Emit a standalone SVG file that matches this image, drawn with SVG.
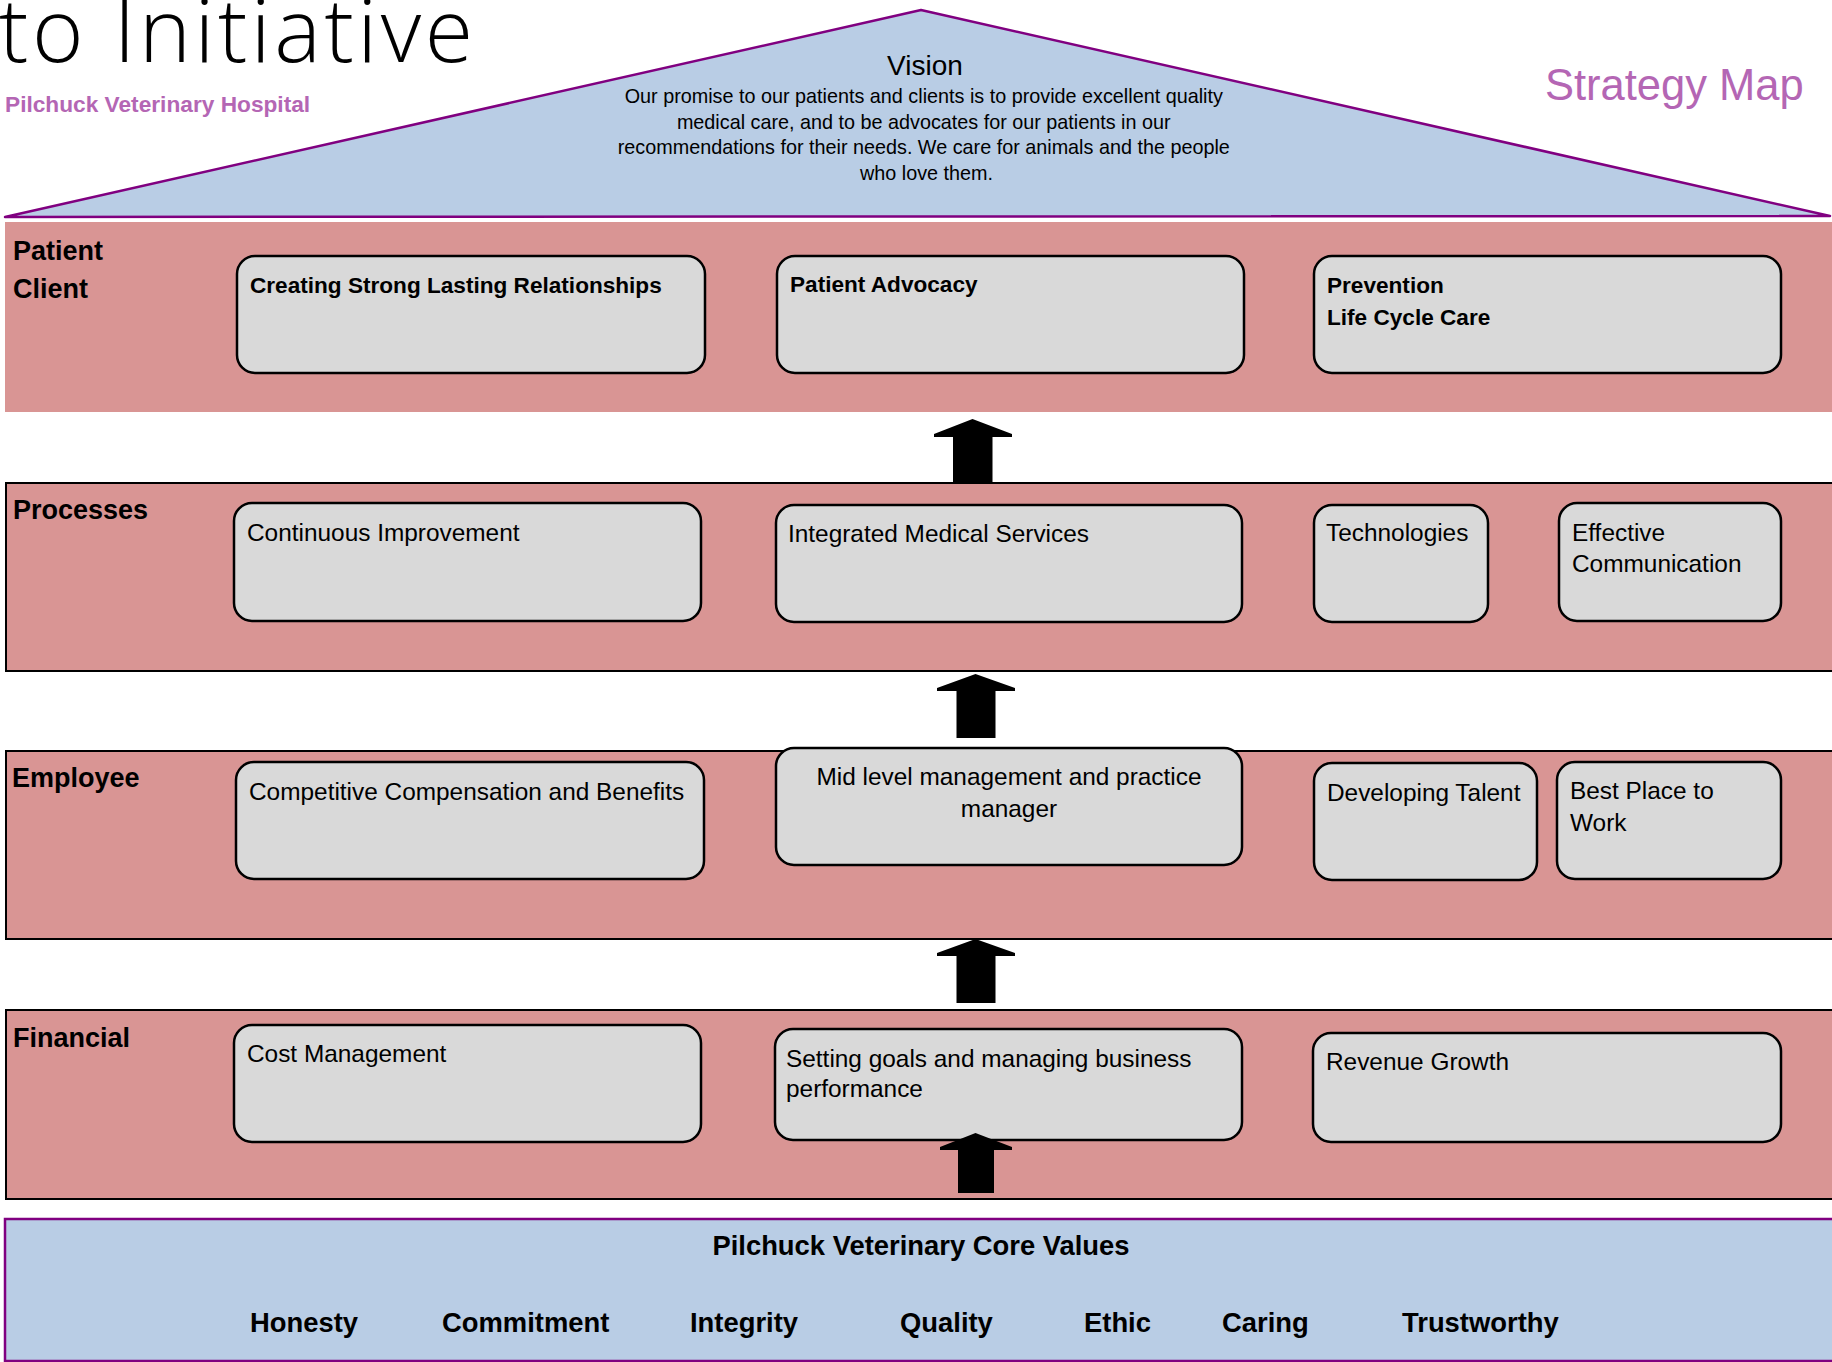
<svg xmlns="http://www.w3.org/2000/svg" width="1832" height="1362" viewBox="0 0 1832 1362">
<style>
.t{font-family:"Liberation Sans",Arial,sans-serif;fill:#000}
.r{font-size:24.4px}
.b{font-size:22.6px;font-weight:bold}
.lbl{font-size:27px;font-weight:bold}
.cv{font-size:27.4px;font-weight:bold}
.band{fill:#D99594;stroke:#000;stroke-width:2}
.box{fill:#D9D9D9;stroke:#000;stroke-width:2.5}
.arrow{fill:#000}
.purple{fill:#B466B4}
</style>
<rect x="0" y="0" width="1832" height="1362" fill="#FFFFFF"/>
<g id="title">
<text x="-1" y="62" font-family="'Open Sans','Liberation Sans',sans-serif" font-weight="300" font-size="88" textLength="474" lengthAdjust="spacing" fill="#000">to Initiative</text>
<text class="t purple" x="5" y="112" font-size="22.7" font-weight="bold">Pilchuck Veterinary Hospital</text>
<text class="t purple" x="1545" y="100" font-size="43.5">Strategy Map</text>
</g>
<g id="vision">
<polygon points="5,217 921,10 1830,216" fill="#B9CDE5" stroke="#800080" stroke-width="2.5" stroke-linejoin="round"/>
<text class="t" x="925" y="75" font-size="28" text-anchor="middle">Vision</text>
<text class="t" font-size="19.8" text-anchor="middle">
<tspan x="926.5" y="103">Our promise to our patients and clients is to provide excellent quality</tspan>
<tspan x="926.5" y="128.5">medical care, and to be advocates for our patients in our</tspan>
<tspan x="926.5" y="154">recommendations for their needs. We care for animals and the people</tspan>
<tspan x="926.5" y="179.5">who love them.</tspan>
</text>
</g>
<g id="band-patient">
<rect x="5" y="222" width="1830" height="190" fill="#D99594"/>
<text class="t lbl" font-size="27.8"><tspan x="13" y="260">Patient</tspan><tspan x="13" y="298">Client</tspan></text>
</g>
<g id="band-processes">
<rect class="band" x="6" y="483" width="1830" height="188"/>
<text class="t lbl" x="13" y="519" font-size="25.8">Processes</text>
</g>
<g id="band-employee">
<rect class="band" x="6" y="751" width="1830" height="188"/>
<text class="t lbl" x="12" y="787">Employee</text>
</g>
<g id="band-financial">
<rect class="band" x="6" y="1010" width="1830" height="189"/>
<text class="t lbl" x="13" y="1047">Financial</text>
</g>
<g id="core-values">
<rect x="5" y="1219" width="1830" height="142" fill="#B9CDE5" stroke="#800080" stroke-width="2.5"/>
<text class="t cv" x="921" y="1255" text-anchor="middle">Pilchuck Veterinary Core Values</text>
<text class="t cv" x="250" y="1332">Honesty</text>
<text class="t cv" x="442" y="1332" font-size="28.2">Commitment</text>
<text class="t cv" x="690" y="1332">Integrity</text>
<text class="t cv" x="900" y="1332">Quality</text>
<text class="t cv" x="1084" y="1332">Ethic</text>
<text class="t cv" x="1222" y="1332">Caring</text>
<text class="t cv" x="1402" y="1332" font-size="28">Trustworthy</text>
</g>
<g id="node-relationships">
<rect class="box" x="237" y="256" width="468" height="117" rx="18"/>
<text class="t b" x="250" y="293" font-size="22.3">Creating Strong Lasting Relationships</text>
</g>
<g id="node-advocacy">
<rect class="box" x="777" y="256" width="467" height="117" rx="18"/>
<text class="t b" x="790" y="292">Patient Advocacy</text>
</g>
<g id="node-prevention">
<rect class="box" x="1314" y="256" width="467" height="117" rx="18"/>
<text class="t b"><tspan x="1327" y="293">Prevention</tspan><tspan x="1327" y="325">Life Cycle Care</tspan></text>
</g>
<g id="node-continuous">
<rect class="box" x="234" y="503" width="467" height="118" rx="18"/>
<text class="t r" x="247" y="541" font-size="24.8">Continuous Improvement</text>
</g>
<g id="node-integrated">
<rect class="box" x="776" y="505" width="466" height="117" rx="18"/>
<text class="t r" x="788" y="542">Integrated Medical Services</text>
</g>
<g id="node-technologies">
<rect class="box" x="1314" y="505" width="174" height="117" rx="18"/>
<text class="t r" x="1326" y="541">Technologies</text>
</g>
<g id="node-communication">
<rect class="box" x="1559" y="503" width="222" height="118" rx="18"/>
<text class="t r"><tspan x="1572" y="541">Effective</tspan><tspan x="1572" y="572">Communication</tspan></text>
</g>
<g id="node-compensation">
<rect class="box" x="236" y="762" width="468" height="117" rx="18"/>
<text class="t r" x="249" y="800">Competitive Compensation and Benefits</text>
</g>
<g id="node-midlevel">
<rect class="box" x="776" y="748" width="466" height="117" rx="18"/>
<text class="t r" text-anchor="middle"><tspan x="1009" y="785">Mid level management and practice</tspan><tspan x="1009" y="817">manager</tspan></text>
</g>
<g id="node-talent">
<rect class="box" x="1314" y="763" width="223" height="117" rx="18"/>
<text class="t r" x="1327" y="801">Developing Talent</text>
</g>
<g id="node-bestplace">
<rect class="box" x="1557" y="762" width="224" height="117" rx="18"/>
<text class="t r"><tspan x="1570" y="799">Best Place to</tspan><tspan x="1570" y="831">Work</tspan></text>
</g>
<g id="node-cost">
<rect class="box" x="234" y="1025" width="467" height="117" rx="18"/>
<text class="t r" x="247" y="1062">Cost Management</text>
</g>
<g id="node-goals">
<rect class="box" x="775" y="1029" width="467" height="111" rx="18"/>
<text class="t r"><tspan x="786" y="1067">Setting goals and managing business</tspan><tspan x="786" y="1097">performance</tspan></text>
</g>
<g id="node-revenue">
<rect class="box" x="1313" y="1033" width="468" height="109" rx="18"/>
<text class="t r" x="1326" y="1070">Revenue Growth</text>
</g>
<g id="connectors">
<polygon class="arrow" points="972.5,419 1012,434 1012,437 992.5,437 992.5,483 953,483 953,437 934,437 934,434"/>
<polygon class="arrow" points="975.5,674 1015,688 1015,691 995.5,691 995.5,738 956.5,738 956.5,691 937,691 937,688"/>
<polygon class="arrow" points="975.5,939 1015,953 1015,956 995.5,956 995.5,1003 956.5,1003 956.5,956 937,956 937,953"/>
<polygon class="arrow" points="975.5,1133 1012,1147 1012,1150 994,1150 994,1193 958,1193 958,1150 940,1150 940,1147"/>
</g>
</svg>
